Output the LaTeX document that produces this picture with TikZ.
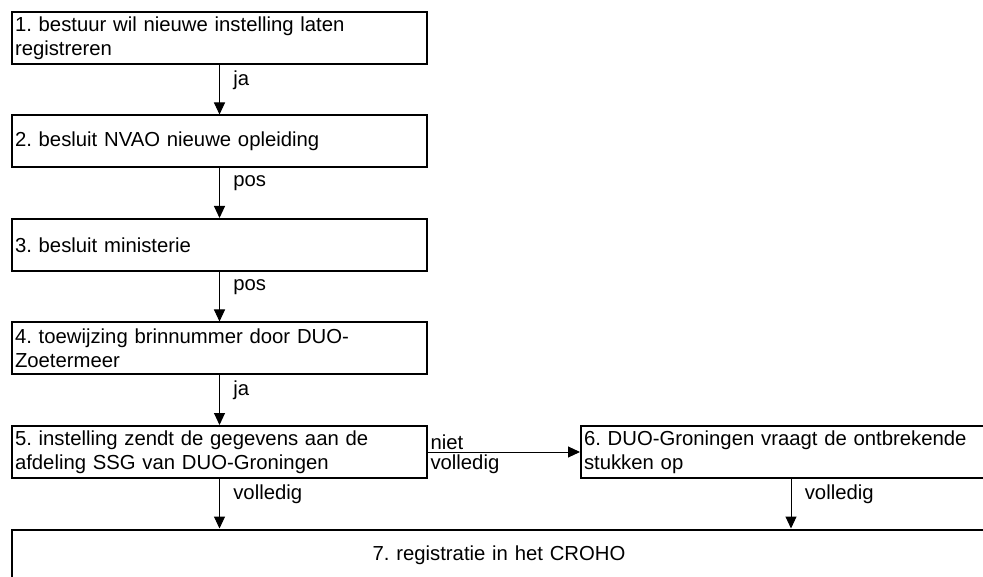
\documentclass[tikz,border=0pt]{standalone}
\usepackage{fontspec}
\setmainfont{Liberation Sans}
\usetikzlibrary{positioning,arrows.meta}
\frenchspacing
\hyphenpenalty=10000

\begin{document}
\begin{tikzpicture}[x=1pt,y=-1pt,
    stap/.style={draw,line width=2pt,inner sep=3pt,minimum height=52pt,text width=409pt,align=left,font=\fontsize{20.3}{24}\selectfont},
    pijl/.style={-{Triangle[length=12pt,width=11pt]},line width=1pt},
    tak/.style={right=10pt,font=\fontsize{20.3}{24}\selectfont},
    zij/.style={inner sep=2pt,font=\fontsize{20.3}{24}\selectfont}
    ]

    \useasboundingbox (0,0) rectangle (983,577);

    \node (stap1) [stap,anchor=north west] at (11,11) {1. bestuur wil nieuwe instelling laten registreren};
    \node (stap2) [stap,below=49.5pt of stap1] {2. besluit NVAO nieuwe opleiding};
    \node (stap3) [stap,below=49.5pt of stap2] {3. besluit ministerie};
    \node (stap4) [stap,below=49.5pt of stap3] {4. toewijzing brinnummer door DUO-\\Zoetermeer};
    \node (stap5) [stap,below=49.5pt of stap4] {5. instelling zendt de gegevens aan de afdeling SSG van DUO-Groningen};
    \node (stap6) [stap,text width=414pt,right=152pt of stap5] {6. DUO-Groningen vraagt de ontbrekende stukken op};
    \node (stap7) [stap,text width=968pt,align=center,minimum height=52pt,below=49.5pt of stap5.south west,anchor=north west] {7. registratie in het CROHO};

    \draw[pijl] (stap1) -- node[tak,pos=0.3] {ja} (stap2);
    \draw[pijl] (stap2) -- node[tak,pos=0.3] {pos} (stap3);
    \draw[pijl] (stap3) -- node[tak,pos=0.3] {pos} (stap4);
    \draw[pijl] (stap4) -- node[tak,pos=0.3] {ja} (stap5);
    \draw[pijl] (stap5) -- node[zij,above right,pos=0] {niet} node[zij,below right,pos=0] {volledig} (stap6);
    \draw[pijl] (stap5) -- node[tak,pos=0.3] {volledig} (stap5 |- stap7.north);
    \draw[pijl] (stap6) -- node[tak,pos=0.3] {volledig} (stap6 |- stap7.north);

  \end{tikzpicture}
\end{document}
